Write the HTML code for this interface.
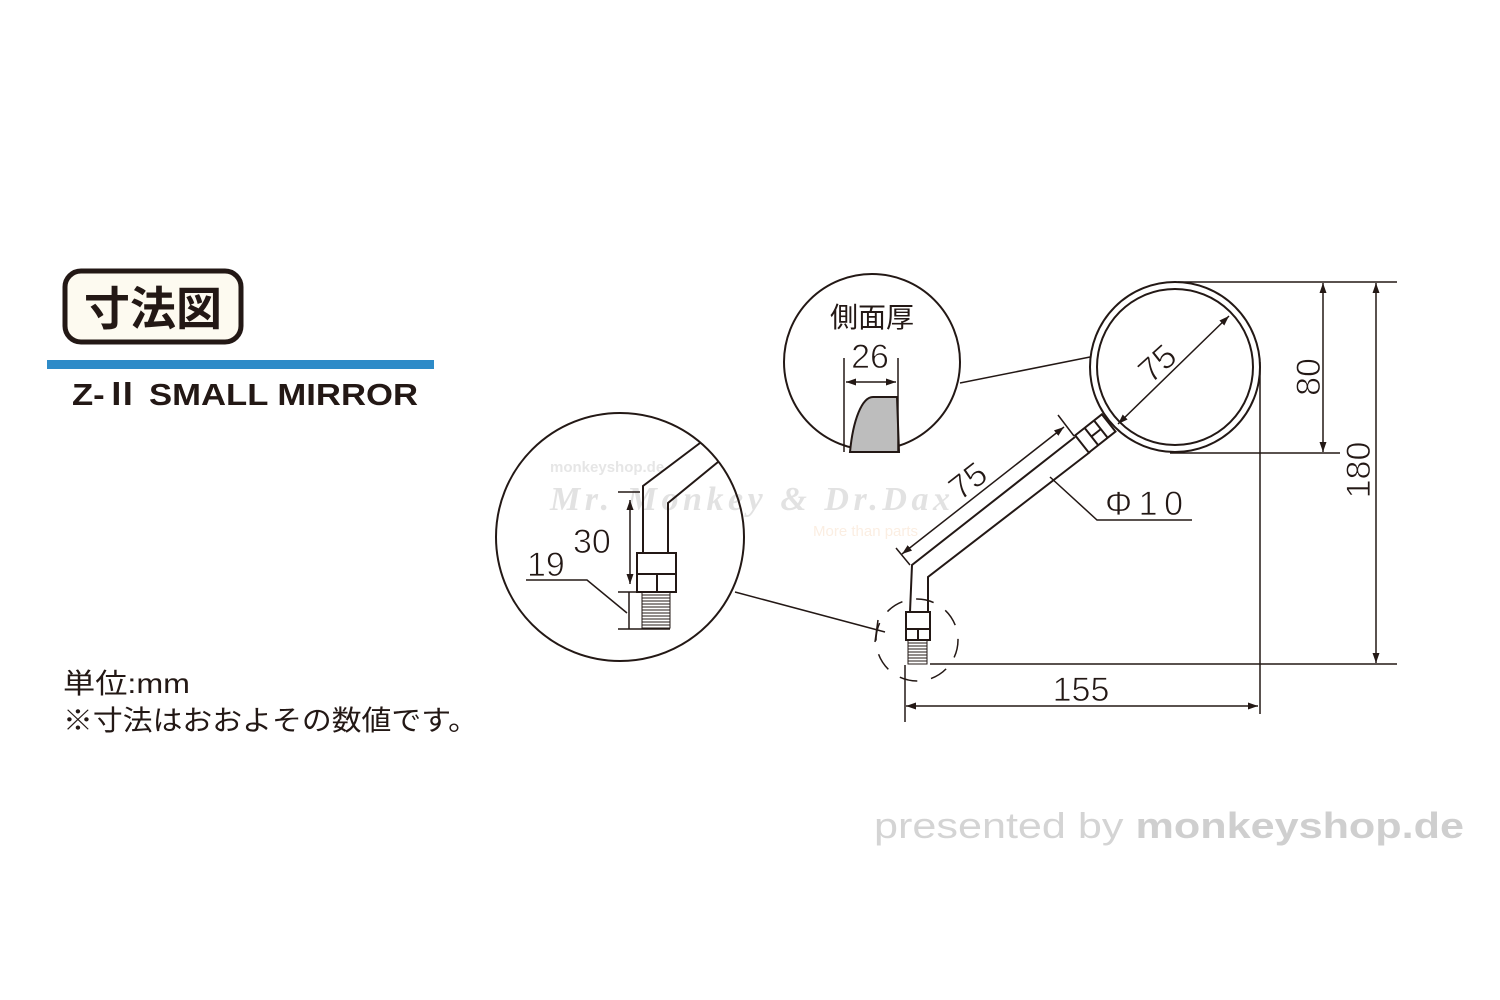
<!DOCTYPE html>
<html><head><meta charset="utf-8"><style>
html,body{margin:0;padding:0;background:#fff;}
svg{display:block;}
</style></head><body>
<svg width="1500" height="1000" viewBox="0 0 1500 1000" xmlns="http://www.w3.org/2000/svg" font-family="Liberation Sans, Noto Sans CJK JP, sans-serif">
<defs>
<marker id="a" viewBox="0 0 10 10" refX="10" refY="5" markerWidth="10" markerHeight="10" markerUnits="userSpaceOnUse" orient="auto-start-reverse"><path d="M0,1.5 L10,5 L0,8.5 Z" fill="#231815"/></marker>
</defs>
<rect width="1500" height="1000" fill="#fff"/>
<!-- title -->
<rect x="65" y="271" width="176" height="71" rx="16" fill="#fdfaf0" stroke="#231815" stroke-width="5"/>
<text x="153" y="325" text-anchor="middle" font-size="46" font-weight="bold" fill="#231815" font-family="Noto Sans CJK JP, sans-serif">寸法図</text>
<rect x="47" y="360" width="387" height="9" fill="#2e8bc8"/>
<text x="72" y="405" font-size="31" font-weight="bold" fill="#231815" textLength="346" lengthAdjust="spacingAndGlyphs">Z-Ⅱ SMALL MIRROR</text>
<text x="63" y="693" font-size="28" fill="#231815" font-family="Liberation Sans, Noto Sans CJK JP, sans-serif" textLength="127" lengthAdjust="spacingAndGlyphs">単位:mm</text>
<text x="63" y="730" font-size="28" fill="#231815" font-family="Liberation Sans, Noto Sans CJK JP, sans-serif" textLength="415" lengthAdjust="spacingAndGlyphs">※寸法はおおよその数値です。</text>

<!-- watermark -->
<text x="550" y="472" font-size="15" font-weight="bold" fill="#e6e6e6">monkeyshop.de</text>
<text x="550" y="510" font-size="34" font-weight="bold" font-style="italic" fill="#e2e2e2" font-family="Liberation Serif, serif" textLength="400">Mr. Monkey &amp; Dr.Dax</text>
<text x="813" y="536" font-size="15" fill="#fbeee2">More than parts</text>

<g stroke="#231815" stroke-width="2" fill="none">
<circle cx="620" cy="537" r="124"/>
<path d="M700,443 L643,486 L643,553"/>
<path d="M718,462 L668,503 L668,553"/>
<rect x="637" y="553" width="39" height="21" fill="#fff"/>
<rect x="637" y="574" width="39" height="18" fill="#fff"/>
<line x1="657" y1="574" x2="657" y2="592"/>
<g stroke-width="1">
<rect x="642" y="592" width="28" height="36"/>
<path d="M642,595H670M642,598H670M642,601H670M642,604H670M642,607H670M642,610H670M642,613H670M642,616H670M642,619H670M642,622H670M642,625H670"/>
</g>
<line x1="618" y1="492" x2="640" y2="492" stroke-width="1.5"/>
<line x1="618" y1="592" x2="640" y2="592" stroke-width="1.5"/>
<line x1="618" y1="629" x2="670" y2="629" stroke-width="1.5"/>
<line x1="630" y1="500" x2="630" y2="584" stroke-width="1.5" marker-start="url(#a)" marker-end="url(#a)"/>
<line x1="629" y1="592" x2="629" y2="629" stroke-width="1.5"/>
<path d="M526,580 L587,580 L627,613" stroke-width="1.5"/>
<line x1="735" y1="592" x2="885" y2="632" stroke-width="1.5"/>
<line x1="878" y1="620" x2="875" y2="642" stroke-width="1.5"/>

<circle cx="872" cy="362" r="88"/>
<path d="M850,452 C853,420 862,397 873,397 L897,397 L899,452 Z" fill="#bdbdbd" stroke-width="2"/>
<line x1="844" y1="358" x2="844" y2="452" stroke-width="1.5"/>
<line x1="898" y1="358" x2="898" y2="452" stroke-width="1.5"/>
<line x1="846" y1="382" x2="896" y2="382" stroke-width="1.5" marker-start="url(#a)" marker-end="url(#a)"/>
<line x1="960" y1="383" x2="1090" y2="357" stroke-width="1.5"/>

<circle cx="1175" cy="367" r="85"/>
<circle cx="1175" cy="367" r="78"/>
<line x1="1118" y1="424" x2="1229" y2="316" stroke-width="1.5" marker-start="url(#a)" marker-end="url(#a)"/>
<g transform="translate(1082,444) rotate(-38.3)">
<rect x="0" y="-11" width="34" height="22" fill="#fff"/>
<line x1="12" y1="-11" x2="12" y2="11"/>
<line x1="24" y1="-11" x2="24" y2="11"/>
<line x1="12" y1="0" x2="24" y2="0"/>
</g>
<path d="M1075,437 L912,565 L910,612"/>
<path d="M1090,452 L928,577 L928,612"/>
<rect x="906" y="612" width="24" height="17" fill="#fff"/>
<rect x="906" y="629" width="24" height="11" fill="#fff"/>
<line x1="918" y1="629" x2="918" y2="640"/>
<g stroke-width="1">
<rect x="908" y="640" width="19" height="24"/>
<path d="M908,643H927M908,646H927M908,649H927M908,652H927M908,655H927M908,658H927M908,661H927"/>
</g>
<circle cx="917" cy="640" r="41" stroke-width="1.5" stroke-dasharray="18,14"/>
<line x1="896" y1="548" x2="910" y2="565" stroke-width="1.5"/>
<line x1="1058" y1="415" x2="1074" y2="436" stroke-width="1.5"/>
<line x1="902" y1="554" x2="1064" y2="427" stroke-width="1.5" marker-start="url(#a)" marker-end="url(#a)"/>
<path d="M1050,477 L1097,520 L1192,520" stroke-width="1.5"/>
<line x1="1178" y1="282" x2="1397" y2="282" stroke-width="1.5"/>
<line x1="1170" y1="453" x2="1340" y2="453" stroke-width="1.5"/>
<line x1="930" y1="664" x2="1397" y2="664" stroke-width="1.5"/>
<line x1="1260" y1="362" x2="1260" y2="714" stroke-width="1.5"/>
<line x1="905" y1="665" x2="905" y2="722" stroke-width="1.5"/>
<line x1="1323" y1="283" x2="1323" y2="452" stroke-width="1.5" marker-start="url(#a)" marker-end="url(#a)"/>
<line x1="1376" y1="283" x2="1376" y2="663" stroke-width="1.5" marker-start="url(#a)" marker-end="url(#a)"/>
<line x1="906" y1="706" x2="1258" y2="706" stroke-width="1.5" marker-start="url(#a)" marker-end="url(#a)"/>
</g>

<g fill="#231815" font-size="34" stroke="#fff" stroke-width="0.8" paint-order="fill">
<text x="872" y="327" text-anchor="middle" font-size="28" stroke="none" font-family="Noto Sans CJK JP, sans-serif">側面厚</text>
<text x="870" y="368" text-anchor="middle">26</text>
<text x="0" y="0" transform="translate(1165,372) rotate(-42)" text-anchor="middle">75</text>
<text x="0" y="0" transform="translate(975,490) rotate(-38)" text-anchor="middle">75</text>
<text x="1105" y="515" textLength="78">Φ10</text>
<text x="1081" y="701" text-anchor="middle">155</text>
<text x="0" y="0" transform="translate(1320,377) rotate(-90)" text-anchor="middle">80</text>
<text x="0" y="0" transform="translate(1370,470) rotate(-90)" text-anchor="middle">180</text>
<text x="573" y="553">30</text>
<text x="527" y="576">19</text>
</g>

<text x="874" y="838" font-size="36" fill="#d4d4d4" textLength="590" lengthAdjust="spacingAndGlyphs">presented by <tspan font-weight="bold" fill="#cfcfcf">monkeyshop.de</tspan></text>
</svg>
</body></html>
